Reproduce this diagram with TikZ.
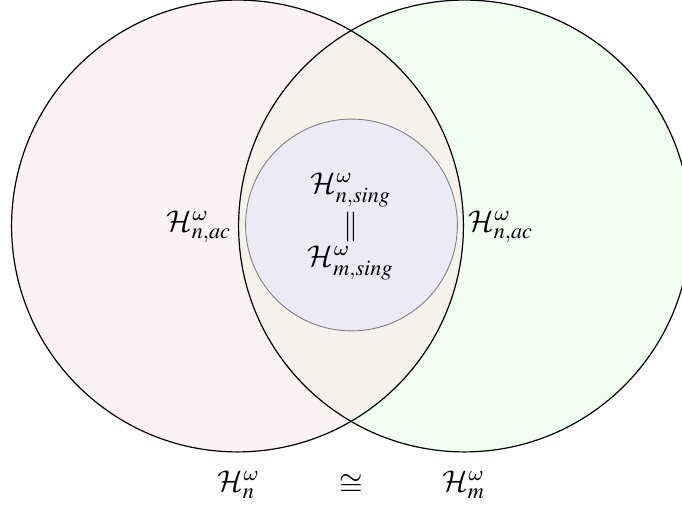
\documentclass[tikz,border=0pt]{standalone}
\usepackage{mathptmx}
\DeclareSymbolFont{cmsyfont}{OMS}{cmsy}{m}{n}
\DeclareSymbolFontAlphabet{\mathcal}{cmsyfont}
\DeclareSymbolFont{cmletters}{OML}{cmm}{m}{it}
\DeclareMathSymbol{\omega}{\mathord}{cmletters}{"21}
\definecolor{pinkfill}{RGB}{253,242,242}
\definecolor{greenfill}{RGB}{242,253,242}
\definecolor{mixfill}{RGB}{245,241,235}
\definecolor{innerfill}{RGB}{236,234,244}
\definecolor{innerdraw}{RGB}{128,128,128}
\begin{document}
\begin{tikzpicture}[x=0.3333pt,y=-0.3333pt,
  lbl/.style={inner sep=0pt, outer sep=0pt},
  outer/.style={draw=black, line width=0.4pt}]
\useasboundingbox (0,0) rectangle (682,513);
\coordinate (L) at (237.5,226);
\coordinate (R) at (464.5,226);
\coordinate (C) at (351.5,225);
\fill[pinkfill] (L) circle[radius=75.3pt];
\fill[greenfill] (R) circle[radius=75.3pt];
\begin{scope}
  \clip (L) circle[radius=75.3pt];
  \fill[mixfill] (R) circle[radius=75.3pt];
\end{scope}
\draw[outer] (L) circle[radius=75.3pt];
\draw[outer] (R) circle[radius=75.3pt];
\draw[fill=innerfill, draw=innerdraw, line width=0.3pt] (C) circle[radius=35.3pt];
\node[lbl] (lac) at (199,227) {$\mathcal{H}^{\omega}_{n,ac}$};
\node[lbl] (rac) at (501,227) {$\mathcal{H}^{\omega}_{n,ac}$};
\node[lbl] (ns) at (351,190) {$\mathcal{H}^{\omega}_{n,sing}$};
\node[lbl] (eq) at (351,227) {$\|$};
\node[lbl] (ms) at (351,263) {$\mathcal{H}^{\omega}_{m,sing}$};
\node[lbl] (hn) at (239,485) {$\mathcal{H}^{\omega}_{n}$};
\node[lbl] (cong) at (351,485) {$\cong$};
\node[lbl] (hm) at (464,485) {$\mathcal{H}^{\omega}_{m}$};
\end{tikzpicture}
\end{document}
